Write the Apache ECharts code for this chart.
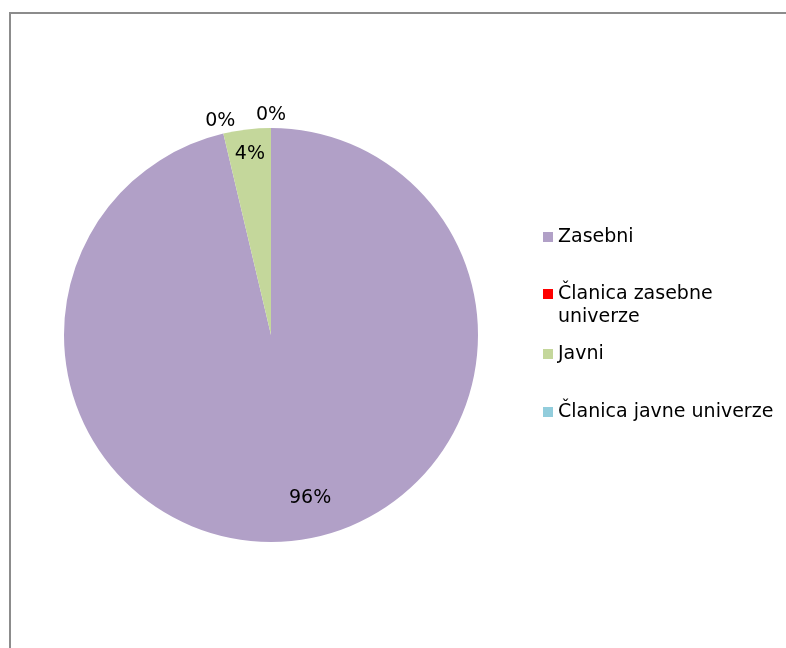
<!DOCTYPE html>
<html>
<head>
<meta charset="utf-8">
<script src="https://cdn.jsdelivr.net/npm/echarts@6/dist/echarts.min.js"></script>
<style>
html,body{margin:0;padding:0;background:#fff;}
#chart{width:786px;height:648px;}
</style>
</head>
<body>
<div id="chart"></div>
<script>
// ---- data ----
const categories = ['Zasebni', 'Članica zasebne univerze', 'Javni', 'Članica javne univerze'];
const values = [96.3, 0, 3.7, 0];
const colors = ['#B1A0C7', '#FF0000', '#C4D79B', '#92CDDC'];
const legendLabels = ['Zasebni', '\nČlanica zasebne\nuniverze', 'Javni', 'Članica javne univerze'];

const FONT = 'DejaVu Sans';
const CX = 271, CY = 335, R = 207;

const chart = echarts.init(document.getElementById('chart'), null, {renderer: 'canvas'});

const mainData = categories.map((c, i) => ({name: c, value: values[i], itemStyle: {color: colors[i]}}));
const pctFmt = p => Math.round(p.percent) + '%';

// label-only overlays
const innerLabelData = categories.map((c, i) => ({
  name: c, value: values[i],
  label: {show: values[i] > 0}
}));
const zeroLabelData = categories.map((c, i) => ({
  name: c, value: values[i],
  label: {show: values[i] === 0}
}));

const legendTops = [225.5, 259.5, 342.5, 400.5];
const legends = categories.map((c, i) => ({
  data: [c],
  orient: 'vertical',
  left: 543,
  top: legendTops[i],
  padding: 0,
  icon: 'rect',
  itemWidth: 10,
  itemHeight: 10,
  selectedMode: false,
  formatter: () => legendLabels[i],
  textStyle: {
    fontFamily: FONT, fontSize: 19, color: '#000', lineHeight: 23
  }
}));

const overlayBase = {
  type: 'pie',
  center: [CX, CY],
  startAngle: 90,
  clockwise: true,
  silent: true,
  legendHoverLink: false,
  avoidLabelOverlap: false,
  labelLine: {show: false},
  itemStyle: {color: 'rgba(0,0,0,0)', borderWidth: 0},
  emphasis: {disabled: true},
  animation: false
};

chart.setOption({
  backgroundColor: '#fff',
  animation: false,
  graphic: [{
    type: 'rect',
    shape: {x: 10, y: 13, width: 900, height: 900},
    style: {fill: 'none', stroke: '#8c8c8c', lineWidth: 2},
    silent: true
  }],
  legend: legends,
  series: [
    {
      name: 'main',
      type: 'pie',
      center: [CX, CY],
      radius: [0, R],
      startAngle: 90,
      clockwise: true,
      avoidLabelOverlap: false,
      label: {show: false},
      labelLine: {show: false},
      itemStyle: {borderWidth: 0},
      emphasis: {disabled: true},
      data: mainData
    },
    Object.assign({}, overlayBase, {
      name: 'inner',
      radius: [169, 189],
      label: {
        show: true, position: 'inside', formatter: pctFmt,
        fontFamily: FONT, fontSize: 19, color: '#000'
      },
      labelLayout: p => p.dataIndex === 0 ? {dx: 18, dy: -18} : {},
      data: innerLabelData
    }),
    Object.assign({}, overlayBase, {
      name: 'outer',
      radius: [204, 230],
      label: {
        show: true, position: 'inside', formatter: pctFmt,
        fontFamily: FONT, fontSize: 19, color: '#000'
      },
      data: zeroLabelData
    })
  ]
});
</script>
</body>
</html>
